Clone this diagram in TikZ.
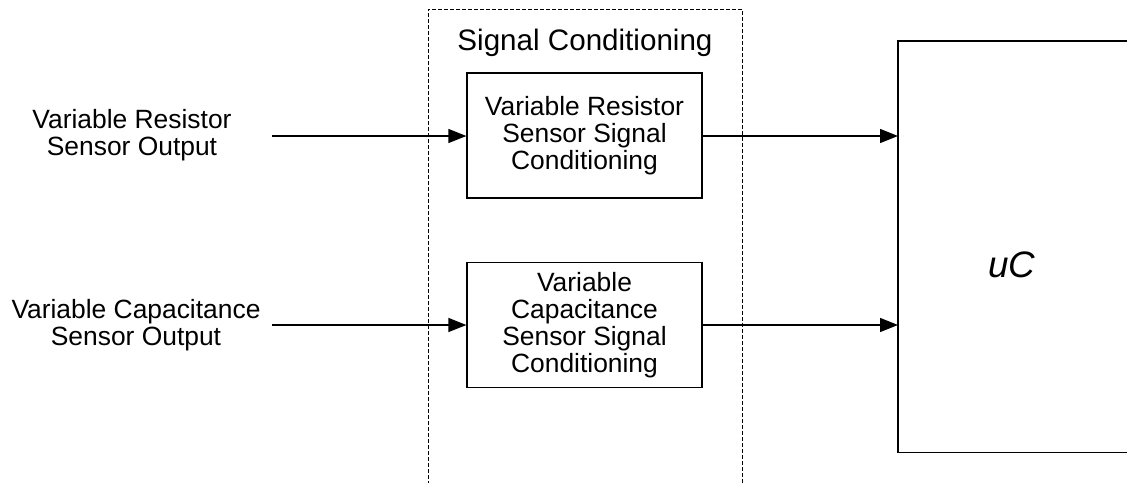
\documentclass[tikz,border=0pt]{standalone}
\usepackage{fontspec}
\setmainfont{Liberation Sans}
\usetikzlibrary{arrows.meta,calc}
\begin{document}
\begin{tikzpicture}[x=0.5pt,y=-0.5pt,
  lbl/.style={align=center,font=\fontsize{13.2}{13.5}\selectfont,inner sep=0pt},
  blk/.style={draw,line width=0.6pt,align=center,font=\fontsize{13.2}{13.5}\selectfont,minimum width=117.5pt,minimum height=62.5pt,inner sep=0pt},
  conn/.style={line width=0.6pt,-{Triangle[length=9pt,width=7pt]}},
  dsh/.style={line width=0.5pt,dash pattern=on 2pt off 1pt}]
\useasboundingbox (0,0) rectangle (1127,482);
% signal conditioning dashed frame
\coordinate (scbl) at (428,485);
\coordinate (sctl) at (428,9);
\coordinate (sctr) at (742,9);
\coordinate (scbr) at (742,485);
\draw[dsh] (scbl) -- (sctl) -- (sctr) -- (scbr);
\node[inner sep=0pt,font=\fontsize{14.8}{16}\selectfont] (sctitle) at (585,43) {Signal Conditioning};
% blocks
\node[blk] (rb) at (584.5,135.5) {Variable Resistor\\Sensor Signal\\Conditioning};
\node[blk] (cb) at (584.5,325) {Variable\\Capacitance\\Sensor Signal\\Conditioning};
% uC
\node[inner sep=0pt,minimum width=115pt,minimum height=205.5pt,anchor=north west] (uc) at (898,41) {};
\node[inner sep=0pt,font=\fontsize{18.4}{20}\selectfont\itshape] (uctext) at (1012,265) {uC};
\draw[line width=0.6pt] (uc.north east) -- (uc.north west) -- (uc.south west) -- (uc.south east);
% input labels
\node[lbl] (rin) at (132,135) {Variable Resistor\\Sensor Output};
\node[lbl] (cin) at (136,325) {Variable Capacitance\\Sensor Output};
\coordinate (rs) at (272,136);
\coordinate (cs) at (272,325);
% connectors
\draw[conn] (rs) -- (rs -| rb.west);
\draw[conn] (cs) -- (cs -| cb.west);
\draw[conn] (rs -| rb.east) -- (rs -| uc.west);
\draw[conn] (cs -| cb.east) -- (cs -| uc.west);
\end{tikzpicture}
\end{document}
